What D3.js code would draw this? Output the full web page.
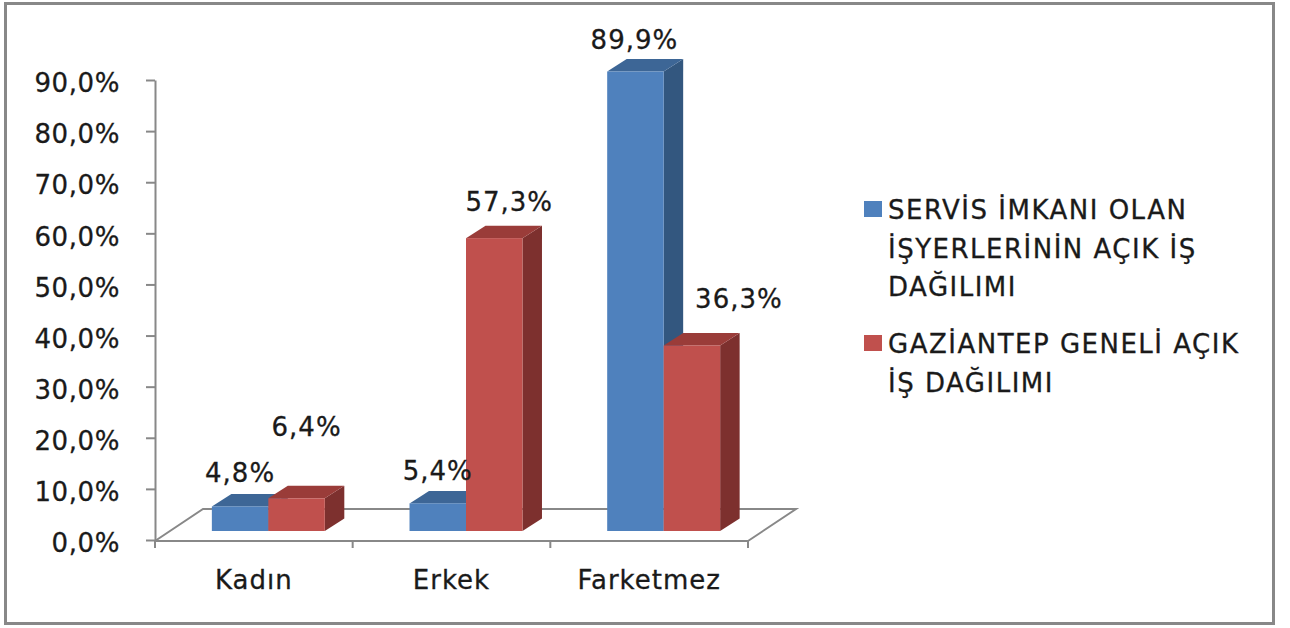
<!DOCTYPE html>
<html lang="tr">
  <head>
    <meta charset="UTF-8"/>
    <title>Açık iş dağılımı</title>
    <script src="https://d3js.org/d3.v7.min.js"></script>
    <style>
        body {
          margin: 0;
          background: #fff;
        }
        text {
          font-family: "DejaVu Sans", sans-serif;
          fill: #1a1a1a;
          stroke: #1a1a1a;
          stroke-width: 0.3;
        }
        .axis line,
        .axis path,
        .floor {
          fill: none;
          stroke: #888;
          stroke-width: 2;
        }
        .frame {
          fill: #fff;
          stroke: #888;
          stroke-width: 3;
        }
    </style>
  </head>
  <body>
    <script>
        // data
        const categories = ["Kadın", "Erkek", "Farketmez"]
        const seriesNames = [
          "SERVİS İMKANI OLAN İŞYERLERİNİN AÇIK İŞ DAĞILIMI",
          "GAZİANTEP GENELİ AÇIK İŞ DAĞILIMI"
        ]
        const servisValues = [0.048, 0.054, 0.899]
        const geneliValues = [0.064, 0.573, 0.363]
        const yTicks = [0, 0.1, 0.2, 0.3, 0.4, 0.5, 0.6, 0.7, 0.8, 0.9]

        // legend text wrapped the way the picture shows it
        const legendLines = [
          ["SERVİS İMKANI OLAN", "İŞYERLERİNİN AÇIK İŞ", "DAĞILIMI"],
          ["GAZİANTEP GENELİ AÇIK", "İŞ DAĞILIMI"]
        ]

        const colors = [
          {front: "#4f81bd", top: "#3d6696", side: "#33577f"},
          {front: "#c0504d", top: "#9a3c39", side: "#7d302e"}
        ]

        // layout
        const W = 1290, H = 628
        const plot = {left: 155, right: 748, top: 80, bottom: 540}
        const floorDepth = {dx: 48, dy: -32}
        const barShift = {dx: 14.5, dy: -9}     // bar front plane inside the floor
        const barDepth = {dx: 19.5, dy: -12.5}
        // Excel moved some labels around; offsets from the bar's front-top centre
        const labelNudge = [
          [[0, -24], [0, -23], [-1, -23]],
          [[10, -62], [15, -27], [47, -37]]
        ]

        const fmt = v => d3.format(".1f")(v * 100).replace(".", ",") + "%"

        const svg = d3.select("body").append("svg")
            .attr("width", W)
            .attr("height", H)

        svg.append("rect")
            .attr("class", "frame")
            .attr("x", 5.5).attr("y", 3.5)
            .attr("width", 1268).attr("height", 620)

        const y = d3.scaleLinear()
            .domain([0, 0.9])
            .range([plot.bottom, plot.top])

        const x = d3.scaleBand()
            .domain(categories)
            .range([plot.left, plot.right])

        const xs = d3.scaleBand()
            .domain([0, 1])
            .range([0, x.bandwidth()])
            .paddingOuter(0.75)

        // floor
        const fl = plot.left, fr = plot.right, fb = plot.bottom + 1
        svg.append("path")
            .attr("class", "floor")
            .attr("d", `M${fl},${fb} L${fl + floorDepth.dx},${fb + floorDepth.dy} L${fr + floorDepth.dx},${fb + floorDepth.dy} L${fr},${fb}`)

        // x axis (front edge of the floor)
        const xAxis = svg.append("g")
            .attr("class", "axis")
            .attr("transform", `translate(0, ${fb})`)
        xAxis.append("path").attr("d", `M${fl},0 H${fr}`)
        xAxis.selectAll("line.tick")
            .data(d3.range(categories.length + 1))
            .join("line")
            .attr("x1", i => plot.left + i * x.step())
            .attr("x2", i => plot.left + i * x.step())
            .attr("y1", 0).attr("y2", 7)
        xAxis.selectAll("text")
            .data(categories)
            .join("text")
            .attr("x", d => x(d) + x.bandwidth() / 2)
            .attr("y", 48)
            .attr("text-anchor", "middle")
            .attr("font-size", 26)
            .attr("letter-spacing", 1)
            .text(d => d)

        // y axis
        const yAxis = d3.axisLeft(y)
            .tickValues(yTicks)
            .tickSize(9)
            .tickSizeOuter(0)
            .tickPadding(26)
            .tickFormat(fmt)
        const yg = svg.append("g")
            .attr("class", "axis")
            .attr("transform", `translate(${plot.left}, 0)`)
            .call(yAxis)
        yg.selectAll("text")
            .attr("font-size", 26)
            .attr("letter-spacing", 0.6)
            .attr("dy", "0.45em")
            .attr("font-family", "DejaVu Sans, sans-serif")
            .attr("fill", "#1a1a1a")

        // bars
        const bars = []
        ;[servisValues, geneliValues].forEach((vals, s) => {
          vals.forEach((v, i) => bars.push({s, i, v}))
        })

        const base = y(0) + barShift.dy
        const bx = d => x(categories[d.i]) + xs(d.s) + barShift.dx
        const btop = d => y(d.v) + barShift.dy
        const bw = xs.bandwidth()

        const g = svg.append("g")
        const barG = g.selectAll("g.bar")
            .data(bars.sort((a, b) => a.i - b.i || a.s - b.s))
            .join("g")
            .attr("class", "bar")

        barG.append("path")
            .attr("fill", d => colors[d.s].side)
            .attr("d", d => {
              const x1 = bx(d) + bw, t = btop(d)
              return `M${x1},${base} L${x1 + barDepth.dx},${base + barDepth.dy} L${x1 + barDepth.dx},${t + barDepth.dy} L${x1},${t} Z`
            })
        barG.append("path")
            .attr("fill", d => colors[d.s].top)
            .attr("d", d => {
              const x0 = bx(d), t = btop(d)
              return `M${x0},${t} L${x0 + barDepth.dx},${t + barDepth.dy} L${x0 + bw + barDepth.dx},${t + barDepth.dy} L${x0 + bw},${t} Z`
            })
        barG.append("rect")
            .attr("fill", d => colors[d.s].front)
            .attr("x", d => bx(d))
            .attr("y", d => btop(d))
            .attr("width", bw)
            .attr("height", d => base - btop(d))

        // data labels
        g.selectAll("text.val")
            .data(bars)
            .join("text")
            .attr("class", "val")
            .attr("x", d => bx(d) + bw / 2 + labelNudge[d.s][d.i][0])
            .attr("y", d => btop(d) + labelNudge[d.s][d.i][1])
            .attr("text-anchor", "middle")
            .attr("font-size", 26)
            .attr("letter-spacing", 1)
            .text(d => fmt(d.v))

        // legend
        const lg = svg.append("g").attr("transform", "translate(864, 0)")
        const legendTop = [219, 353]
        seriesNames.forEach((name, s) => {
          lg.append("rect")
              .attr("x", 0)
              .attr("y", legendTop[s] - 18)
              .attr("width", 18)
              .attr("height", 16)
              .attr("fill", colors[s].front)
          lg.append("text")
              .attr("x", 24)
              .attr("y", legendTop[s])
              .attr("font-size", 26)
              .attr("letter-spacing", 1.5)
              .selectAll("tspan")
              .data(legendLines[s])
              .join("tspan")
              .attr("x", 24)
              .attr("dy", (d, k) => k === 0 ? 0 : 38.5)
              .text(d => d)
        })
    </script>
  </body>
</html>
